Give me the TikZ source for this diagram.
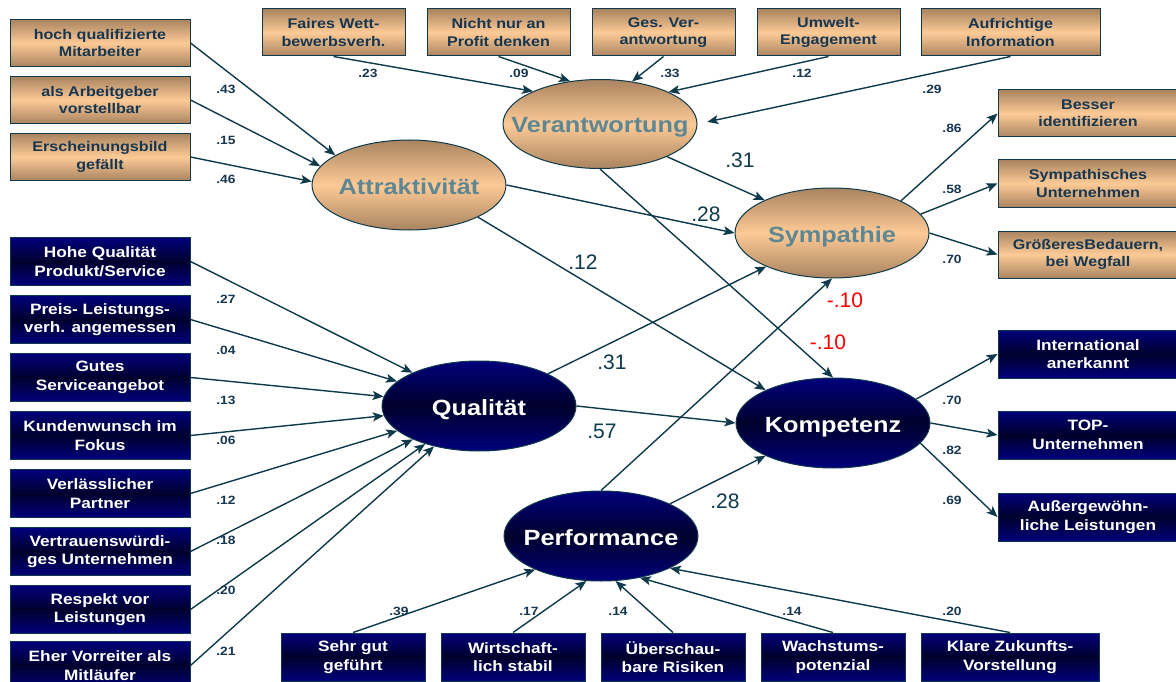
\documentclass[tikz,border=0pt]{standalone}
\usepackage{fontspec}
\setmainfont{Liberation Sans}[FakeStretch=1.15]
\newfontfamily\plainfont{Liberation Sans}
\usetikzlibrary{positioning,shapes.geometric,arrows.meta}

\definecolor{linkcol}{HTML}{0F3A4C}
\definecolor{sand}{HTML}{FDCA96}
\definecolor{sanddark}{HTML}{A98460}
\definecolor{navy}{HTML}{00007C}
\definecolor{navydeep}{HTML}{00002C}
\definecolor{boxink}{HTML}{173650}
\definecolor{ellink}{HTML}{5E8794}

% factor names do not widen the ellipse
\newcommand{\fname}[1]{\makebox[0pt]{#1}}

\begin{document}
\begin{tikzpicture}
  [
    x=1pt, y=-1pt,
    indicator/.style={rectangle, draw=linkcol, line width=1pt, minimum height=47pt, inner sep=0pt, align=center},
    sand ind/.style={indicator, minimum width=#1, top color=sanddark, bottom color=sanddark, middle color=sand, text=boxink, font=\fontsize{14}{17.5}\selectfont\bfseries},
    sand ind/.default=180pt,
    navy ind/.style={indicator, minimum width=#1, minimum height=48pt, top color=navy, bottom color=navy, middle color=navydeep, text=white, font=\fontsize{15}{18.5}\selectfont\bfseries},
    navy ind/.default=180pt,
    factor/.style={ellipse, draw=linkcol, line width=1pt, minimum width=194pt, minimum height=90pt, inner sep=0pt, text height=19pt, text depth=1pt, font=\fontsize{22}{26}\selectfont\bfseries},
    sand factor/.style={factor, top color=sanddark, bottom color=sanddark, middle color=sand, text=ellink},
    navy factor/.style={factor, top color=navy, bottom color=navy, middle color=navydeep, text=white},
    link/.style={draw=linkcol, line width=1.4pt, -{Stealth[length=11pt, width=9pt, inset=2.5pt]}},
    small coef/.style={text=boxink, font=\fontsize{12}{12}\selectfont\bfseries, inner sep=0pt},
    big coef/.style={text=linkcol, font=\plainfont\fontsize{21}{21}\selectfont, inner sep=0pt},
    neg coef/.style={big coef, text=red}
  ]
  \path [use as bounding box, fill=white] (0,0) rectangle (1176,682);

  % latent factors
  \node (ver) [sand factor, minimum height=89pt] at (600,124) {\fname{Verantwortung}};
  \node (att) [sand factor] at (409,185) {\fname{Attraktivität}};
  \node (sym) [sand factor] at (832,233) {\fname{Sympathie}};
  \node (qua) [navy factor] at (479,406) {\fname{Qualität}};
  \node (kom) [navy factor] at (833,423) {\fname{Kompetenz}};
  \node (per) [navy factor] at (601,536) {\fname{Performance}};

  % Attraktivitaet
  \node (hq) [sand ind] at (100,43) {hoch qualifizierte\\Mitarbeiter};
  \node (av) [sand ind, below=9pt of hq] {als Arbeitgeber\\vorstellbar};
  \node (eb) [sand ind, below=9pt of av] {Erscheinungsbild\\gefällt};

  % Verantwortung
  \node (fw) [sand ind=143pt] at (333.5,32.5) {Faires Wett-\\bewerbsverh.};
  \node (np) [sand ind=143pt, right=21pt of fw] {Nicht nur an\\Profit denken};
  \node (gv) [sand ind=143pt, right=21pt of np] {Ges. Ver-\\antwortung};
  \node (ue) [sand ind=143pt, right=21pt of gv] {Umwelt-\\Engagement};
  \node (ai) [sand ind=179pt, right=20pt of ue] {Aufrichtige\\Information};

  % Sympathie
  \node (bi) [sand ind] at (1088,113.5) {Besser\\identifizieren};
  \node (su) [sand ind, below=22pt of bi] {Sympathisches\\Unternehmen};
  \node (gb) [sand ind, below=23pt of su] {GrößeresBedauern,\\bei Wegfall};

  % Kompetenz
  \node (ia) [navy ind] at (1088,354) {International\\anerkannt};
  \node (tu) [navy ind, below=32pt of ia] {TOP-\\Unternehmen};
  \node (al) [navy ind, below=33pt of tu] {Außergewöhn-\\liche Leistungen};

  % Qualitaet
  \node (hqp) [navy ind] at (100,261.5) {Hohe Qualität\\Produkt/Service};
  \node (pl) [navy ind, below=9pt of hqp] {Preis- Leistungs-\\verh. angemessen};
  \node (gs) [navy ind, below=9pt of pl] {Gutes\\Serviceangebot};
  \node (kf) [navy ind, below=9pt of gs] {Kundenwunsch im\\Fokus};
  \node (vp) [navy ind, below=9pt of kf] {Verlässlicher\\Partner};
  \node (vu) [navy ind, below=9pt of vp] {Vertrauenswürdi-\\ges Unternehmen};
  \node (rl) [navy ind, below=9pt of vu] {Respekt vor\\Leistungen};
  \node (ev) [navy ind, below=9pt of rl, yshift=2pt] {Eher Vorreiter als\\Mitläufer};

  % Performance
  \node (sg) [navy ind=144pt] at (353,657) {Sehr gut\\geführt};
  \node (ws) [navy ind=144pt, right=15pt of sg] {Wirtschaft-\\lich stabil};
  \node (ur) [navy ind=144pt, right=15pt of ws] {Überschau-\\bare Risiken};
  \node (wp) [navy ind=144pt, right=15pt of ur] {Wachstums-\\potenzial};
  \node (kz) [navy ind=178pt, right=15pt of wp] {Klare Zukunfts-\\Vorstellung};

  % measurement paths
  \foreach \i/\j in {hq/att.158, av/att.168, eb/att.178}
    \draw [link] (\i.east) -- (\j);
  \foreach \i/\j in {fw/ver.154, np/ver.125, gv/ver.53, ue/ver.25}
    \draw [link] (\i.south) -- (\j);
  \draw [link, shorten >=10pt] (ai.south) -- (ver.east);
  \foreach \i in {hqp, pl, gs, kf, vp, vu, rl, ev}
    \draw [link] (\i.east) -- (qua);
  \foreach \i/\j in {sg/207, ws/252, ur/288, wp/313, kz/335}
    \draw [link] (\i.north) -- (per.\j);
  \foreach \i/\j in {25/bi, 12/su, 0/gb}
    \draw [link] (sym.\i) -- (\j.west);
  \foreach \i/\j in {16/ia, 0/tu, 347/al}
    \draw [link] (kom.\i) -- (\j.west);

  % structural paths
  \draw [link] (ver.334) -- (sym.154);
  \draw [link] (att.east) -- (sym.west);
  \draw [link] (att.335) -- (kom.154);
  \draw [link] (ver.south) -- (kom.north);
  \draw [link] (qua.25) -- (sym.207);
  \draw [link] (qua.east) -- (kom.west);
  \draw [link] (per.north) -- (sym.south);
  \draw [link] (per.25) -- (kom.206);

  % loadings
  \foreach \x/\y/\t [count=\n] in {226/89/.43, 226/140/.15, 226/179/.46,
      368/73/.23, 519/73/.09, 670/73/.33, 802/73/.12, 932/89/.29,
      952/128/.86, 952/189/.58, 952/259/.70, 952/400/.70, 952/450/.82, 952/500/.69,
      226/299/.27, 226/350/.04, 226/400/.13, 226/440/.06, 226/500/.12, 226/540/.18,
      226/590/.20, 226/651/.21,
      399/611/.39, 529/611/.17, 618/611/.14, 792/611/.14, 952/611/.20}
    \node (s\n) [small coef] at (\x,\y) {\t};
  % path coefficients
  \foreach \x/\y/\t [count=\n] in {740/160/.31, 706/214/.28, 583/262/.12,
      612/362/.31, 602/431/.57, 725/501/.28}
    \node (b\n) [big coef] at (\x,\y) {\t};
  \node (r1) [neg coef] at (845,300) {-.10};
  \node (r2) [neg coef] at (828,342) {-.10};
\end{tikzpicture}
\end{document}
